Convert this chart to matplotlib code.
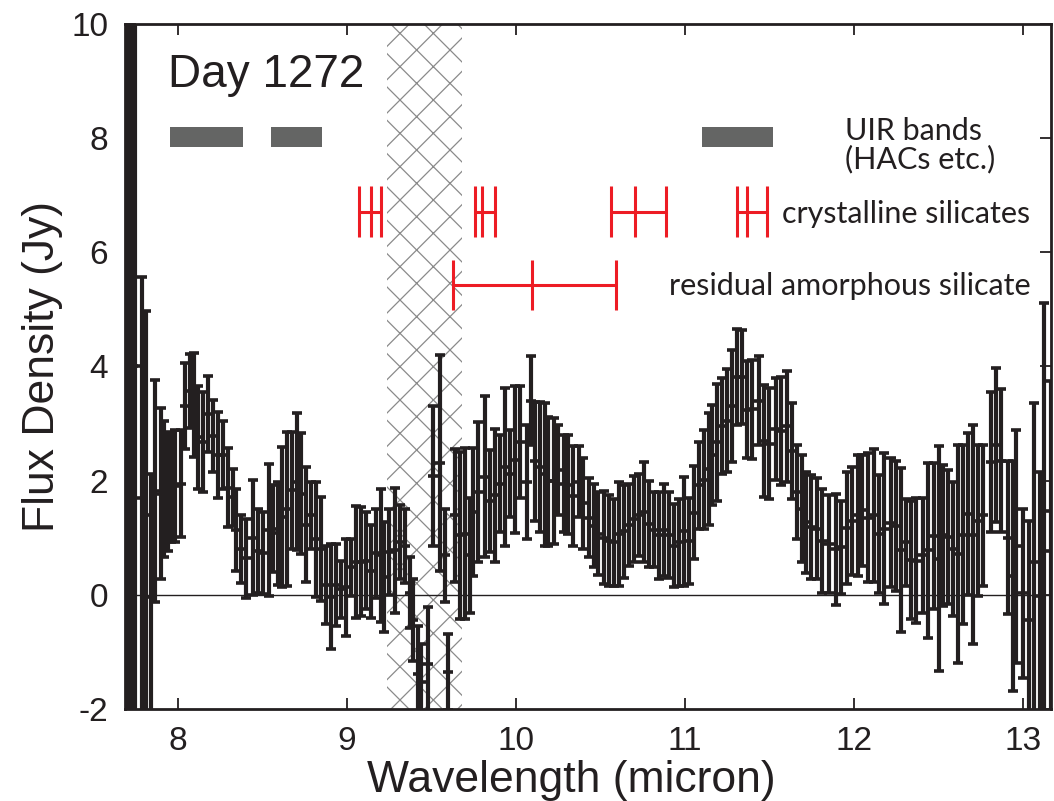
import matplotlib
matplotlib.use("Agg")
import matplotlib.pyplot as plt

plt.rcParams['font.family'] = ['Liberation Sans', 'DejaVu Sans']
plt.rcParams['axes.unicode_minus'] = False
plt.rcParams['hatch.linewidth'] = 0.9

# ---------------- data ----------------
wavelength = [
    7.702, 7.718, 7.734, 7.750, 7.787, 7.811, 7.840, 7.867, 7.900, 7.920,
    7.940, 7.960, 7.985, 8.019, 8.045, 8.072, 8.098, 8.118, 8.147, 8.177,
    8.207, 8.236, 8.266, 8.296, 8.325, 8.345, 8.375, 8.404, 8.444, 8.474,
    8.503, 8.539, 8.562, 8.592, 8.618, 8.646, 8.677, 8.707, 8.731, 8.760,
    8.790, 8.820, 8.849, 8.879, 8.908, 8.938, 8.968, 8.997, 9.027, 9.057,
    9.086, 9.116, 9.146, 9.175, 9.200, 9.218, 9.250, 9.284, 9.314, 9.343,
    9.373, 9.393, 9.420, 9.442, 9.482,
    9.510, 9.551, 9.581, 9.601, 9.640, 9.670, 9.700, 9.729, 9.749, 9.778,
    9.818, 9.848, 9.877, 9.907, 9.937, 9.966, 9.996, 10.026, 10.065, 10.089,
    10.115, 10.144, 10.174, 10.194, 10.224, 10.253, 10.283, 10.312, 10.342, 10.372,
    10.401, 10.431, 10.461, 10.490, 10.520, 10.550, 10.579, 10.609, 10.638, 10.668,
    10.698, 10.727, 10.757, 10.787, 10.816, 10.846, 10.876, 10.905, 10.935, 10.965,
    10.994, 11.024, 11.054, 11.083,
    11.113, 11.143, 11.163, 11.192, 11.222, 11.252, 11.281, 11.311, 11.341, 11.370,
    11.400, 11.440, 11.469, 11.499, 11.538, 11.568, 11.608, 11.637, 11.667, 11.697,
    11.716, 11.746, 11.785, 11.815, 11.855, 11.894, 11.924, 11.963, 11.993, 12.023,
    12.052, 12.082, 12.121, 12.151, 12.181, 12.220, 12.250, 12.279, 12.309, 12.339,
    12.368, 12.408, 12.437, 12.477, 12.507, 12.526, 12.556, 12.586, 12.615, 12.645,
    12.675, 12.704, 12.734, 12.764, 12.813, 12.843, 12.872, 12.912, 12.942, 12.961,
    13.001, 13.040, 13.070, 13.100, 13.129, 13.169,
]
flux = [
    4.0, 4.0, 4.0, 4.0, 1.69, 1.39, -0.04, 1.82, 1.77, 1.85,
    1.80, 1.89, 1.90, 1.95, 3.31, 3.57, 3.33, 2.76, 2.68, 3.17,
    2.78, 2.45, 2.45, 1.88, 1.71, 1.14, 0.80, 0.64, 1.00, 0.77,
    0.73, 1.14, 1.16, 1.08, 1.36, 1.51, 1.83, 1.98, 1.77, 1.23,
    1.39, 0.97, 0.80, 0.17, -0.03, 0.17, 0.10, 0.13, 0.48, 0.58,
    0.58, 0.60, 0.41, 0.73, 0.69, 0.31, 0.75, 0.78, 0.92, 0.86,
    0.04, -0.44, -1.38, -1.53, -1.21,
    2.08, 2.31, 0.69, -1.35, 1.39, 1.04, 1.07, 0.69, 1.45, 1.80,
    2.07, 1.64, 1.74, 1.95, 2.24, 2.12, 2.37, 2.67, 1.98, 3.40,
    2.34, 2.24, 2.11, 1.99, 1.99, 2.18, 1.95, 1.93, 1.73, 1.98,
    1.60, 1.35, 1.21, 1.07, 1.00, 0.95, 0.92, 1.07, 1.11, 1.23,
    1.33, 1.40, 1.45, 1.24, 1.14, 1.04, 1.14, 1.05, 0.86, 0.92,
    1.11, 0.94, 1.44, 1.92,
    2.02, 2.20, 2.45, 2.67, 2.96, 3.05, 3.31, 3.81, 3.82, 3.24,
    3.25, 3.40, 2.70, 2.65, 2.90, 2.87, 2.95, 2.52, 1.80, 1.51,
    1.27, 1.19, 1.16, 0.95, 0.89, 0.80, 0.83, 1.17, 1.29, 1.39,
    1.48, 1.35, 1.39, 1.07, 1.16, 1.26, 1.21, 0.78, 0.92, 0.61,
    0.60, 0.69, 0.78, 1.03, 0.63, 1.04, 1.01, 0.80, 0.72, 1.05,
    1.41, 1.05, 1.30, 1.39, 2.33, 2.62, 2.35, 1.00, 0.33, 0.85,
    0.03, -0.45, 0.58, -0.02, 1.46, 0.77,
]
flux_err = [
    7.0, 7.0, 7.0, 7.0, 3.88, 3.59, 2.16, 1.95, 1.50, 1.19,
    1.03, 0.97, 0.98, 0.94, 0.75, 0.65, 0.91, 0.90, 0.88, 0.66,
    0.63, 0.76, 0.59, 0.69, 0.50, 0.72, 0.59, 0.69, 1.01, 0.73,
    0.72, 1.16, 0.76, 0.90, 1.23, 1.35, 1.03, 1.20, 1.06, 1.01,
    0.59, 1.01, 0.91, 0.69, 0.92, 0.72, 0.50, 0.85, 0.50, 0.98,
    0.95, 0.85, 0.81, 0.78, 1.17, 0.97, 0.76, 1.09, 0.65, 0.65,
    0.62, 0.72, 0.83, 0.67, 0.99,
    1.22, 1.89, 0.82, 0.66, 1.17, 1.47, 1.50, 1.00, 1.12, 1.23,
    1.41, 0.89, 1.17, 0.85, 1.38, 0.76, 1.28, 0.98, 1.00, 0.78,
    1.04, 1.14, 1.25, 1.13, 1.10, 0.79, 0.85, 0.87, 0.87, 0.62,
    0.79, 0.69, 0.73, 0.73, 0.81, 0.79, 0.76, 0.91, 0.81, 0.72,
    0.76, 0.72, 0.88, 0.76, 0.66, 0.76, 0.81, 0.75, 0.73, 0.76,
    0.95, 0.75, 0.81, 0.76,
    0.87, 0.98, 0.88, 1.02, 0.84, 0.90, 0.98, 0.84, 0.82, 0.85,
    0.87, 0.78, 0.98, 0.97, 0.89, 0.95, 0.97, 0.84, 0.82, 0.94,
    0.88, 0.91, 0.88, 0.91, 0.85, 0.97, 0.82, 0.98, 0.95, 1.06,
    0.97, 1.13, 1.17, 1.03, 1.32, 1.13, 1.14, 1.44, 0.76, 1.04,
    1.09, 1.00, 1.53, 1.28, 1.97, 1.23, 1.17, 1.17, 1.91, 1.57,
    1.42, 1.92, 1.32, 1.23, 1.23, 1.35, 1.25, 1.34, 2.02, 2.04,
    1.48, 1.75, 2.78, 2.18, 3.66, 2.97,
]

# masked (hatched) wavelength range
mask_range = [9.238, 9.682]

# UIR band bars
uir_start = [7.954, 8.552, 11.104]
uir_end = [8.386, 8.854, 11.524]
uir_y = 8.02

# crystalline silicate feature groups
cryst_groups = [
    [9.075, 9.144, 9.201],
    [9.759, 9.799, 9.878],
    [10.562, 10.706, 10.888],
    [11.308, 11.367, 11.485],
]
cryst_y = 6.71
# residual amorphous silicate
amorph_marks = [9.631, 10.095, 10.592]
amorph_y = 5.43

xticks = [8, 9, 10, 11, 12, 13]
yticks = [-2, 0, 2, 4, 6, 8, 10]

# ---------------- plot ----------------
ink = '#231f20'
red = '#ed1c24'

fig = plt.figure(figsize=(10.54, 8.01), dpi=100)
ax = fig.add_axes([0.1186, 0.1149, 0.8781, 0.8551])

ax.axvspan(mask_range[0], mask_range[1], facecolor='white', edgecolor='#8a8a8a',
           hatch='x', lw=0, zorder=0.5)
ax.axhline(0, color=ink, lw=1.0, zorder=1)

ax.errorbar(wavelength, flux, yerr=flux_err, fmt='_', ms=7, mew=2.6,
            color=ink, ecolor=ink, elinewidth=3.0, capsize=3.5, capthick=2.6,
            zorder=3)

# UIR bars
ax.broken_barh([(s, e - s) for s, e in zip(uir_start, uir_end)],
               (uir_y - 0.18, 0.36), facecolors='#646564', zorder=2)

# crystalline silicate markers
half = 0.445
for g in cryst_groups:
    ax.hlines(cryst_y, min(g), max(g), color=red, lw=2.2, zorder=2)
    ax.vlines(g, cryst_y - half, cryst_y + half, color=red, lw=2.2, zorder=2)
ax.hlines(amorph_y, min(amorph_marks), max(amorph_marks), color=red, lw=2.2, zorder=2)
ax.vlines(amorph_marks, amorph_y - 0.44, amorph_y + 0.43, color=red, lw=2.2, zorder=2)

# annotations
ax.text(7.94, 8.89, 'Day 1272', fontsize=33, color=ink, va='baseline', ha='left')
afont = dict(family=['Lato', 'DejaVu Sans'], fontsize=22, color=ink,
             va='baseline', ha='left')
ax.text(11.948, 7.96, 'UIR bands', **afont)
ax.text(11.948, 7.47, '(HACs etc.)', **afont)
ax.text(11.578, 6.51, 'crystalline silicates', **afont)
ax.text(10.91, 5.25, 'residual amorphous silicate', **afont)

ax.set_xlim(7.688, 13.165)
ax.set_ylim(-2, 10)
ax.set_xticks(xticks)
ax.set_yticks(yticks)
ax.tick_params(direction='in', length=8, width=1.3, top=True, right=True,
               labelsize=24, pad=12, colors=ink)
for s in ax.spines.values():
    s.set_linewidth(2.0)
    s.set_color(ink)

ax.set_xlabel('Wavelength (micron)', fontsize=32, labelpad=1, color=ink)
ax.set_ylabel('Flux Density (Jy)', fontsize=32, labelpad=6, color=ink)
ax.xaxis.set_label_coords(0.482, -0.075)

fig.savefig('out.png', dpi=100)
